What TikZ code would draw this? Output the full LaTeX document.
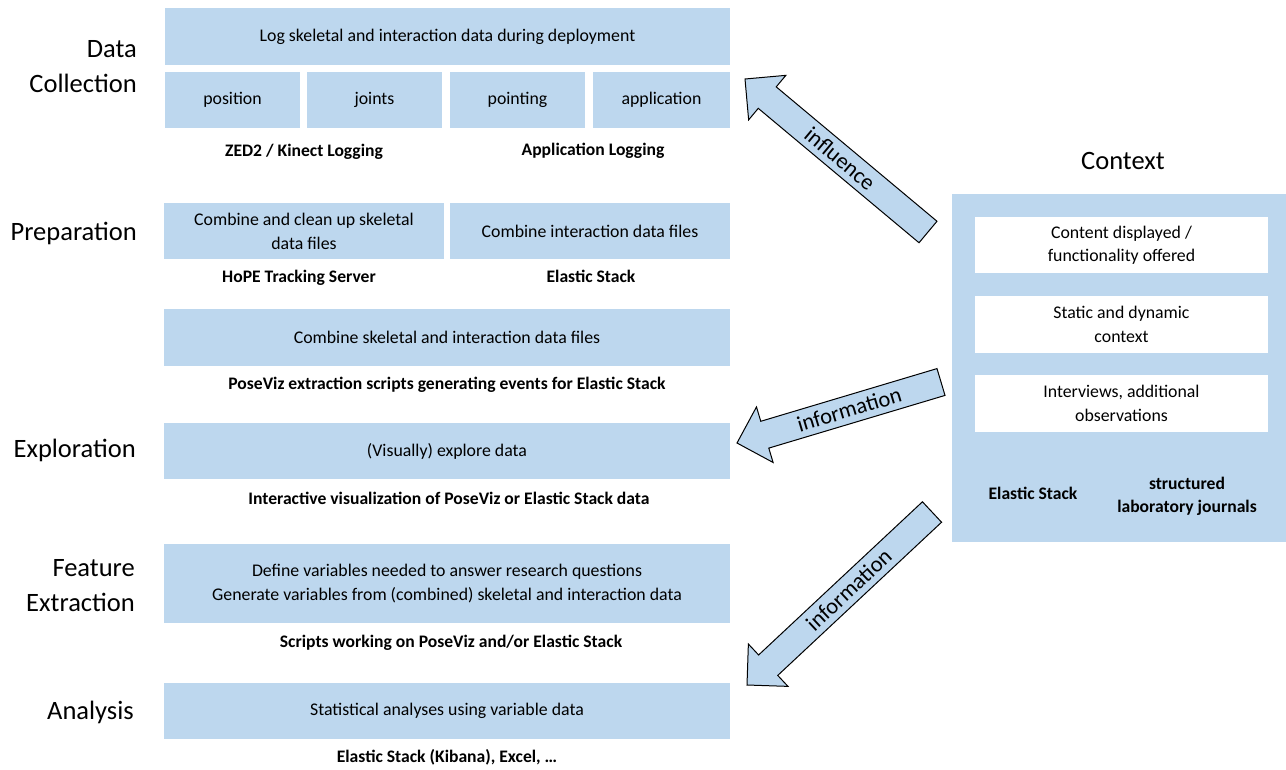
\documentclass[tikz,border=0pt]{standalone}
\usepackage{fontspec}
\setmainfont{Carlito}
\usetikzlibrary{calc}
\definecolor{boxblue}{HTML}{BDD7EE}
\tikzset{
  box/.style={fill=boxblue, inner sep=0pt, align=center, font=\fontsize{17.8}{24}\selectfont},
  wbox/.style={fill=white, inner sep=0pt, align=center, font=\fontsize{17.8}{23.5}\selectfont},
  tool/.style={inner sep=0pt, align=center, font=\bfseries\fontsize{17.6}{23}\selectfont},
  phase/.style={inner sep=0pt, align=right, anchor=east, font=\fontsize{26.5}{35}\selectfont},
  blockarrow/.style={fill=boxblue, draw=black, line width=1pt, line join=miter},
  arrowtext/.style={font=\fontsize{22.5}{24}\selectfont, inner sep=0pt}
}
\newcommand{\blockarrow}[2]{%
  \coordinate (#1hb) at ($(#2)!29pt!(#1)$);
  \draw[blockarrow] ($(#1)!14pt!90:(#2)$) -- ($(#1hb)!14pt!-90:(#1)$) -- ($(#1hb)!29pt!-90:(#1)$) -- (#2)
   -- ($(#1hb)!29pt!90:(#1)$) -- ($(#1hb)!14pt!90:(#1)$) -- ($(#1)!14pt!-90:(#2)$) -- cycle;}
\begin{document}
\begin{tikzpicture}[x=1pt,y=-1pt]
\useasboundingbox (0,0) rectangle (1286,769);

% phase labels
\node[phase] (lcol) at (137,67) {Data\\Collection};
\node[phase] (lprep) at (137,233.5) {Preparation};
\node[phase] (lexp) at (136,450.5) {Exploration};
\node[phase] (lfeat) at (135,585.5) {Feature\\Extraction};
\node[phase] (lana) at (134,712.5) {Analysis};

% data collection
\node[box, minimum width=565, minimum height=57] (log) at (447.5,36.5) {Log skeletal and interaction data during deployment};
\node[box, minimum width=135, minimum height=56] (pos) at (232.5,100) {position};
\node[box, minimum width=135, minimum height=56] (joi) at (374.5,100) {joints};
\node[box, minimum width=135, minimum height=56] (poi) at (517.5,100) {pointing};
\node[box, minimum width=137, minimum height=56] (app) at (661.5,100) {application};
\node[tool] (zed) at (304,152) {ZED2 / Kinect Logging};
\node[tool] (applog) at (593,151) {Application Logging};

% preparation
\node[box, minimum width=280, minimum height=56] (prep1) at (304,231) {Combine and clean up skeletal\\data files};
\node[box, minimum width=280, minimum height=56] (prep2) at (590,231) {Combine interaction data files};
\node[tool] (hope) at (299,278) {HoPE Tracking Server};
\node[tool] (es1) at (591,276) {Elastic Stack};
\node[box, minimum width=566, minimum height=57] (comb) at (447,337.5) {Combine skeletal and interaction data files};
\node[tool] (pviz) at (447,385) {PoseViz extraction scripts generating events for Elastic Stack};

% exploration
\node[box, minimum width=566, minimum height=56] (expl) at (447,451) {(Visually) explore data};
\node[tool] (inter) at (449,498) {Interactive visualization of PoseViz or Elastic Stack data};

% feature extraction
\node[box, minimum width=566, minimum height=79] (feat) at (447,583.5) {Define variables needed to answer research questions\\Generate variables from (combined) skeletal and interaction data};
\node[tool] (scr) at (451,643) {Scripts working on PoseViz and/or Elastic Stack};

% analysis
\node[box, minimum width=566, minimum height=56] (ana) at (447,711) {Statistical analyses using variable data};
\node[tool] (excel) at (447,757) {Elastic Stack (Kibana), Excel, …};

% context
\node[font=\fontsize{26.5}{30}\selectfont, inner sep=0pt] (ctxlabel) at (1123,161) {Context};
\node[fill=boxblue, inner sep=0pt, minimum width=334, minimum height=348] (ctx) at (1119,368) {};
\node[wbox, minimum width=293, minimum height=56] (c1) at (1121.5,245) {Content displayed /\\functionality offered};
\node[wbox, minimum width=293, minimum height=57] (c2) at (1121.5,324.5) {Static and dynamic\\context};
\node[wbox, minimum width=293, minimum height=57] (c3) at (1121.5,403.5) {Interviews, additional\\observations};
\node[tool] (ces) at (1033,493) {Elastic Stack};
\node[tool] (cjour) at (1187,496.5) {structured\\laboratory journals};

% block arrows
\coordinate (infT) at (928,232);
\coordinate (infP) at (745,79);
\coordinate (ionT) at (941,382);
\coordinate (ionP) at (737,443);
\coordinate (itwT) at (932,512);
\coordinate (itwP) at (747,685);
\blockarrow{infT}{infP}
\blockarrow{ionT}{ionP}
\blockarrow{itwT}{itwP}
\path (infT) -- (infP) node[arrowtext, pos=0.48, sloped] (tinf) {influence};
\path (ionT) -- (ionP) node[arrowtext, pos=0.45, sloped] (tion) {information};
\path (itwT) -- (itwP) node[arrowtext, pos=0.45, sloped] (titw) {information};
\end{tikzpicture}
\end{document}
